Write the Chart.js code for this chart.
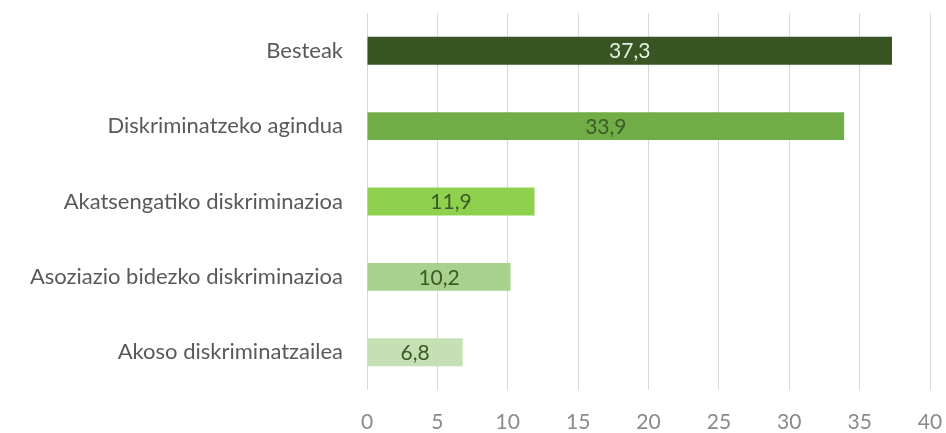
<!DOCTYPE html>
<html lang="eu">
<head>
  <meta charset="UTF-8">
  <title>Diskriminazio motak</title>
  <script src="https://cdn.jsdelivr.net/npm/chart.js"></script>
  <style>
    html, body { margin: 0; padding: 0; background: #fff; }
    #wrap { width: 946px; height: 433px; }
  </style>
</head>
<body>
<div id="wrap"><canvas id="barChart"></canvas></div>
<script>
  const categories = ["Besteak", "Diskriminatzeko agindua", "Akatsengatiko diskriminazioa", "Asoziazio bidezko diskriminazioa", "Akoso diskriminatzailea"];
  const values = [37.3, 33.9, 11.9, 10.2, 6.8];
  const xTicks = [0, 5, 10, 15, 20, 25, 30, 35, 40];
  const barColors = ["#375623", "#70ad47", "#8fd14f", "#a9d18e", "#c5e0b4"];
  const labelColors = ["#e8f0e0", "#3b5a27", "#3b5a27", "#3b5a27", "#3b5a27"];

  const fontFamily = "Lato, 'Open Sans', sans-serif";

  // draw the value in the middle of each bar, comma as decimal mark
  const valueLabels = {
    id: "valueLabels",
    afterDatasetsDraw(chart) {
      const ctx = chart.ctx;
      const meta = chart.getDatasetMeta(0);
      ctx.save();
      ctx.font = "21px " + fontFamily;
      ctx.textAlign = "center";
      ctx.textBaseline = "middle";
      meta.data.forEach(function (bar, i) {
        const mid = (bar.x + bar.base) / 2;
        ctx.fillStyle = labelColors[i];
        ctx.fillText(values[i].toFixed(1).replace(".", ","), mid, bar.y + 1);
      });
      ctx.restore();
    }
  };

  new Chart("barChart", {
    type: "bar",
    data: {
      labels: categories,
      datasets: [{
        data: values,
        backgroundColor: barColors,
        borderWidth: 0,
        barPercentage: 0.37,
        categoryPercentage: 1
      }]
    },
    plugins: [valueLabels],
    options: {
      indexAxis: "y",
      responsive: true,
      maintainAspectRatio: false,
      animation: false,
      layout: { padding: { top: 13, right: 16, left: 0, bottom: 0 } },
      plugins: {
        legend: { display: false },
        tooltip: { enabled: false }
      },
      scales: {
        x: {
          min: 0,
          max: 40,
          afterBuildTicks(scale) {
            scale.ticks = xTicks.map(v => ({ value: v }));
          },
          afterFit(scale) {
            scale.height = 43;
            scale.paddingLeft = 0;
            scale.paddingRight = 0;
          },
          grid: { color: "#d9d9d9", lineWidth: 1, drawTicks: false },
          border: { display: false },
          ticks: {
            padding: 20,
            color: "#8a8a8a",
            font: { family: fontFamily, size: 21 }
          }
        },
        y: {
          afterFit(scale) {
            scale.width = 367;
            scale.paddingTop = 0;
            scale.paddingBottom = 0;
          },
          grid: { display: false, drawTicks: false },
          border: { display: false },
          ticks: {
            padding: 24,
            color: "#595959",
            font: { family: fontFamily, size: 22 }
          }
        }
      }
    }
  });
</script>
</body>
</html>
